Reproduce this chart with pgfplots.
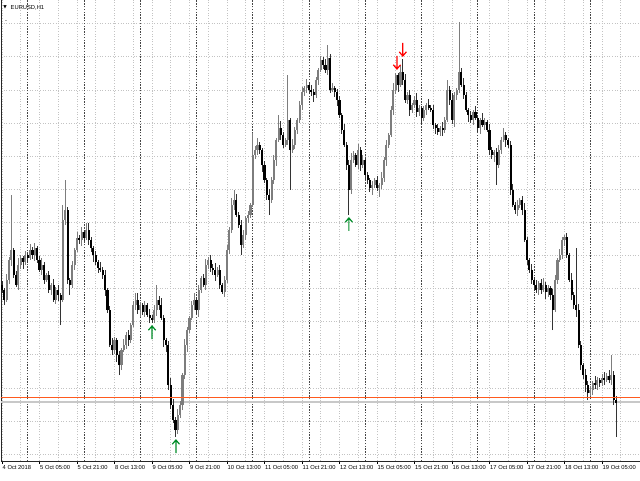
\documentclass[border=0pt]{standalone}
\usepackage{pgfplots}
\pgfplotsset{compat=1.18}
\usepackage{pgfplotstable}
\usepackage{fontspec}
\setmainfont{Liberation Sans}
\newfontfamily\dejavu{DejaVu Sans}

\definecolor{upc}{RGB}{125,125,125}
\definecolor{dnc}{RGB}{0,0,0}
\definecolor{gridc}{RGB}{195,195,195}
\definecolor{sepc}{RGB}{70,70,70}
\definecolor{askc}{RGB}{255,90,30}
\definecolor{bidc}{RGB}{200,200,200}
\definecolor{arrg}{RGB}{0,140,40}
\definecolor{arrr}{RGB}{255,0,0}

% signal arrows, tip at the data point
\pgfdeclareplotmark{uparrow}{%
  \pgfpathmoveto{\pgfpoint{0pt}{-13pt}}\pgfpathlineto{\pgfpoint{0pt}{0pt}}%
  \pgfpathmoveto{\pgfpoint{-3.6pt}{-4.2pt}}\pgfpathlineto{\pgfpoint{0pt}{0pt}}%
  \pgfpathlineto{\pgfpoint{3.6pt}{-4.2pt}}\pgfusepathqstroke}
\pgfdeclareplotmark{downarrow}{%
  \pgfpathmoveto{\pgfpoint{0pt}{13pt}}\pgfpathlineto{\pgfpoint{0pt}{0pt}}%
  \pgfpathmoveto{\pgfpoint{-3.6pt}{4.2pt}}\pgfpathlineto{\pgfpoint{0pt}{0pt}}%
  \pgfpathlineto{\pgfpoint{3.6pt}{4.2pt}}\pgfusepathqstroke}

% candle = error bar from low to high (wick) + thick error bar from open to close (body)
\pgfplotsset{
  candle/.style 2 args={draw=none, mark=none, forget plot,
    error bars/.cd, y dir=plus, y explicit, error mark=none,
    error bar style={draw=#1, line width=#2, solid}},
}

% EURUSD H1 bars, i = bar number from 4 Oct 13:00; o h l c (height units)
\pgfplotstableread{
i o h l c
0 175 179 167 170
1 170 172 155 160
2 160 186 158 180
3 180 203 176 200
4 200 265 194 210
5 210 212 182 185
6 185 189 173 175
7 175 202 170 195
8 195 205 191 202
9 202 204 191 198
10 198 209 195 205
11 205 207 197 202
12 202 216 200 210
13 210 213 201 205
14 205 217 199 212
15 212 214 197 200
16 200 204 188 190
17 190 202 185 195
18 195 198 176 180
19 180 187 178 185
20 185 189 167 170
21 170 177 165 175
22 175 181 158 160
23 160 173 156 170
24 170 175 159 165
25 165 167 135 160
26 160 255 158 240
27 240 280 235 250
28 250 253 176 180
29 180 182 165 175
30 175 199 172 195
31 195 212 190 210
32 210 228 208 222
33 222 225 216 220
34 220 233 214 228
35 228 230 219 222
36 222 237 220 230
37 230 237 215 220
38 220 223 208 212
39 212 214 198 205
40 205 209 195 198
41 198 200 187 192
42 192 198 188 190
43 190 193 181 185
44 185 190 164 170
45 170 172 147 150
46 150 154 113 115
47 115 122 105 110
48 110 123 106 120
49 120 122 98 105
50 105 109 85 95
51 95 112 90 110
52 110 121 108 115
53 115 128 111 125
54 125 130 114 120
55 120 137 117 135
56 135 159 133 155
57 155 167 150 160
58 160 167 146 150
59 150 158 143 155
60 155 157 145 148
61 148 159 143 155
62 155 157 143 145
63 145 151 137 142
64 142 145 137 140
65 140 155 137 150
66 150 175 144 160
67 160 164 150 155
68 155 162 140 142
69 142 145 113 120
70 120 122 108 115
71 115 119 70 75
72 75 82 51 55
73 55 61 37 40
74 40 43 23 30
75 30 51 26 45
76 45 59 42 55
77 55 87 50 85
78 85 121 81 115
79 115 133 108 130
80 130 144 127 142
81 142 159 140 155
82 155 167 150 160
83 160 163 146 150
84 150 175 143 170
85 170 184 167 182
86 182 186 173 175
87 175 201 170 195
88 195 203 191 200
89 200 205 188 192
90 192 196 185 190
91 190 197 179 185
92 185 193 183 190
93 190 195 171 175
94 175 177 166 168
95 168 184 163 180
96 180 215 177 210
97 210 233 206 230
98 230 262 227 255
99 255 270 250 260
100 260 266 243 245
101 245 248 232 235
102 235 240 205 215
103 215 230 212 225
104 225 244 220 242
105 242 249 237 245
106 245 257 242 255
107 255 327 253 305
108 305 314 301 310
109 310 322 305 315
110 315 318 306 310
111 310 312 288 295
112 295 299 277 280
113 280 282 260 265
114 265 271 245 260
115 260 283 257 280
116 280 305 276 300
117 300 322 294 320
118 320 345 318 332
119 332 339 320 325
120 325 328 312 315
121 315 322 313 320
122 320 385 315 340
123 340 342 270 310
124 310 321 307 315
125 315 333 311 330
126 330 342 326 340
127 340 359 337 355
128 355 373 350 368
129 368 374 364 372
130 372 381 367 375
131 375 378 366 370
132 370 375 364 368
133 368 371 358 365
134 365 383 362 380
135 380 392 375 390
136 390 404 388 400
137 400 403 391 395
138 395 401 387 390
139 390 415 385 402
140 402 406 367 370
141 370 377 368 372
142 372 374 363 368
143 368 371 354 360
144 360 364 342 345
145 345 347 326 330
146 330 336 313 315
147 315 318 290 295
148 295 300 245 270
149 270 307 266 300
150 300 309 297 305
151 305 307 293 295
152 295 316 291 310
153 310 313 289 295
154 295 305 292 300
155 300 302 280 285
156 285 288 276 280
157 280 282 268 272
158 272 279 265 275
159 275 282 272 280
160 280 284 269 272
161 272 277 263 275
162 275 288 271 282
163 282 303 278 300
164 300 320 294 315
165 315 327 312 325
166 325 354 323 350
167 350 377 345 370
168 370 387 366 385
169 385 387 368 375
170 375 395 373 388
171 388 401 375 380
172 380 386 357 360
173 360 368 356 365
174 365 370 344 350
175 350 357 347 355
176 355 364 352 360
177 360 367 343 348
178 348 355 344 352
179 352 354 335 342
180 342 354 339 350
181 350 357 345 355
182 355 361 350 352
183 352 355 348 350
184 350 355 331 335
185 335 337 326 332
186 332 336 325 328
187 328 334 324 332
188 332 338 324 330
189 330 343 327 340
190 340 380 338 370
191 370 374 355 360
192 360 367 336 340
193 340 368 333 365
194 365 372 360 370
195 370 438 367 388
196 388 392 373 375
197 375 382 361 365
198 365 368 348 350
199 350 352 338 345
200 345 349 337 340
201 340 350 335 348
202 348 354 340 342
203 342 345 328 332
204 332 342 326 340
205 340 347 333 335
206 335 342 330 338
207 338 340 328 330
208 330 336 305 310
209 310 313 301 305
210 305 310 298 308
211 308 312 275 295
212 295 315 292 310
213 310 323 306 320
214 320 332 318 325
215 325 328 313 320
216 320 322 312 315
217 315 319 265 270
218 270 276 253 255
219 255 258 246 250
220 250 260 244 255
221 255 262 252 260
222 260 264 245 250
223 250 257 218 220
224 220 223 195 200
225 200 202 187 190
226 190 196 176 180
227 180 183 169 175
228 175 180 167 170
229 170 179 165 177
230 177 181 166 170
231 170 182 168 175
232 175 178 161 168
233 168 175 163 172
234 172 174 160 165
235 165 171 130 150
236 150 185 148 180
237 180 202 176 200
238 200 211 198 205
239 205 223 201 220
240 220 225 214 223
241 223 227 202 205
242 205 207 178 180
243 180 187 160 165
244 165 168 151 155
245 155 212 143 150
246 150 156 112 115
247 115 119 90 95
248 95 97 81 85
249 85 91 68 75
250 75 79 60 67
251 67 74 64 70
252 70 79 65 77
253 77 84 71 75
254 75 83 70 80
255 80 82 73 77
256 77 86 74 82
257 82 88 75 80
258 80 87 78 84
259 84 90 77 80
260 80 105 75 85
261 85 89 55 60
262 60 64 23 57
}\ohlc

\begin{document}
\begin{tikzpicture}
\useasboundingbox (0,0) rectangle (640pt,480pt);
\begin{axis}[
    at={(1pt,19pt)}, anchor=south west,
    scale only axis, width=639pt, height=461pt,
    xmin=-0.43, xmax=272.2, ymin=-1, ymax=460,
    axis x line*=bottom, axis y line*=left,
    axis line style={black!85, line width=0.8pt, -},
    % tick labels every 16 bars
    xtick={0,16,...,256},
    xticklabels={4 Oct 2018, 5 Oct 05:00, 5 Oct 21:00, 8 Oct 13:00, 9 Oct 05:00,
      9 Oct 21:00, 10 Oct 13:00, 11 Oct 05:00, 11 Oct 21:00, 12 Oct 13:00,
      15 Oct 05:00, 15 Oct 21:00, 16 Oct 13:00, 17 Oct 05:00, 17 Oct 21:00,
      18 Oct 13:00, 19 Oct 05:00},
    minor xtick={8,24,...,264},
    ytick={6,39.1,72.2,105.3,138.4,171.5,204.6,237.7,270.8,303.9,337,370.1,403.2,436.3},
    yticklabels={},
    ytick style={draw=none},
    tick align=outside,
    major tick length=3pt, minor tick length=0pt,
    xtick style={black, line width=0.6pt},
    xticklabel style={font=\fontsize{5.8}{6}\selectfont, anchor=north west,
      inner sep=0pt, xshift=0.5pt, yshift=-1.5pt},
    grid=both,
    major grid style={gridc, line width=0.6pt, dash pattern=on 1pt off 1.6pt},
    minor grid style={gridc, line width=0.6pt, dash pattern=on 1pt off 1.6pt},
    % day separators
    extra x ticks={11,35,...,251},
    extra x tick labels={},
    extra x tick style={major tick length=0pt,
      major grid style={sepc, line width=0.8pt, dash pattern=on 1.4pt off 1.4pt}},
  ]

  % bid price line
  \addplot[draw=bidc, line width=1.2pt, mark=none, forget plot] coordinates {(-1,58) (273,58)};

  % wicks: up bars, then down bars
  \addplot[candle={upc}{1pt}]
    table[x=i, y=l, y error plus expr=\thisrow{h}-\thisrow{l},
      restrict expr to domain={\thisrow{c}-\thisrow{o}}{0.5:1000}] {\ohlc};
  \addplot[candle={black!80}{1pt}]
    table[x=i, y=l, y error plus expr=\thisrow{h}-\thisrow{l},
      restrict expr to domain={\thisrow{c}-\thisrow{o}}{-1000:0.5}] {\ohlc};

  % bodies
  \addplot[candle={upc}{2.1pt}]
    table[x=i, y=o, y error plus expr=\thisrow{c}-\thisrow{o},
      restrict expr to domain={\thisrow{c}-\thisrow{o}}{0.5:1000}] {\ohlc};
  \addplot[candle={dnc}{2.1pt}]
    table[x=i, y=c, y error plus expr=\thisrow{o}-\thisrow{c},
      restrict expr to domain={\thisrow{c}-\thisrow{o}}{-1000:0.5}] {\ohlc};

  % ask price line, on top of the bars
  \addplot[draw=askc, line width=1.6pt, mark=none, forget plot] coordinates {(-1,62.5) (273,62.5)};

  % buy / sell signals
  \addplot[only marks, mark=uparrow, draw=arrg, mark options={line width=1.2pt, solid}]
    coordinates {(64,134) (74.2,20) (148,242)};
  \addplot[only marks, mark=downarrow, draw=arrr, mark options={line width=1.2pt, solid}]
    coordinates {(168.5,391) (171,404)};
\end{axis}

\node[font=\dejavu\fontsize{4.5}{5}\selectfont, inner sep=0pt] at (5pt,472.5pt) {▼};
\node[font=\fontsize{5.8}{6}\selectfont, anchor=west, inner sep=0pt] at (10.5pt,472pt) {EURUSD,H1};
\node[font=\fontsize{5.8}{6}\selectfont, inner sep=0pt] at (6pt,458pt) {-};
\end{tikzpicture}
\end{document}
